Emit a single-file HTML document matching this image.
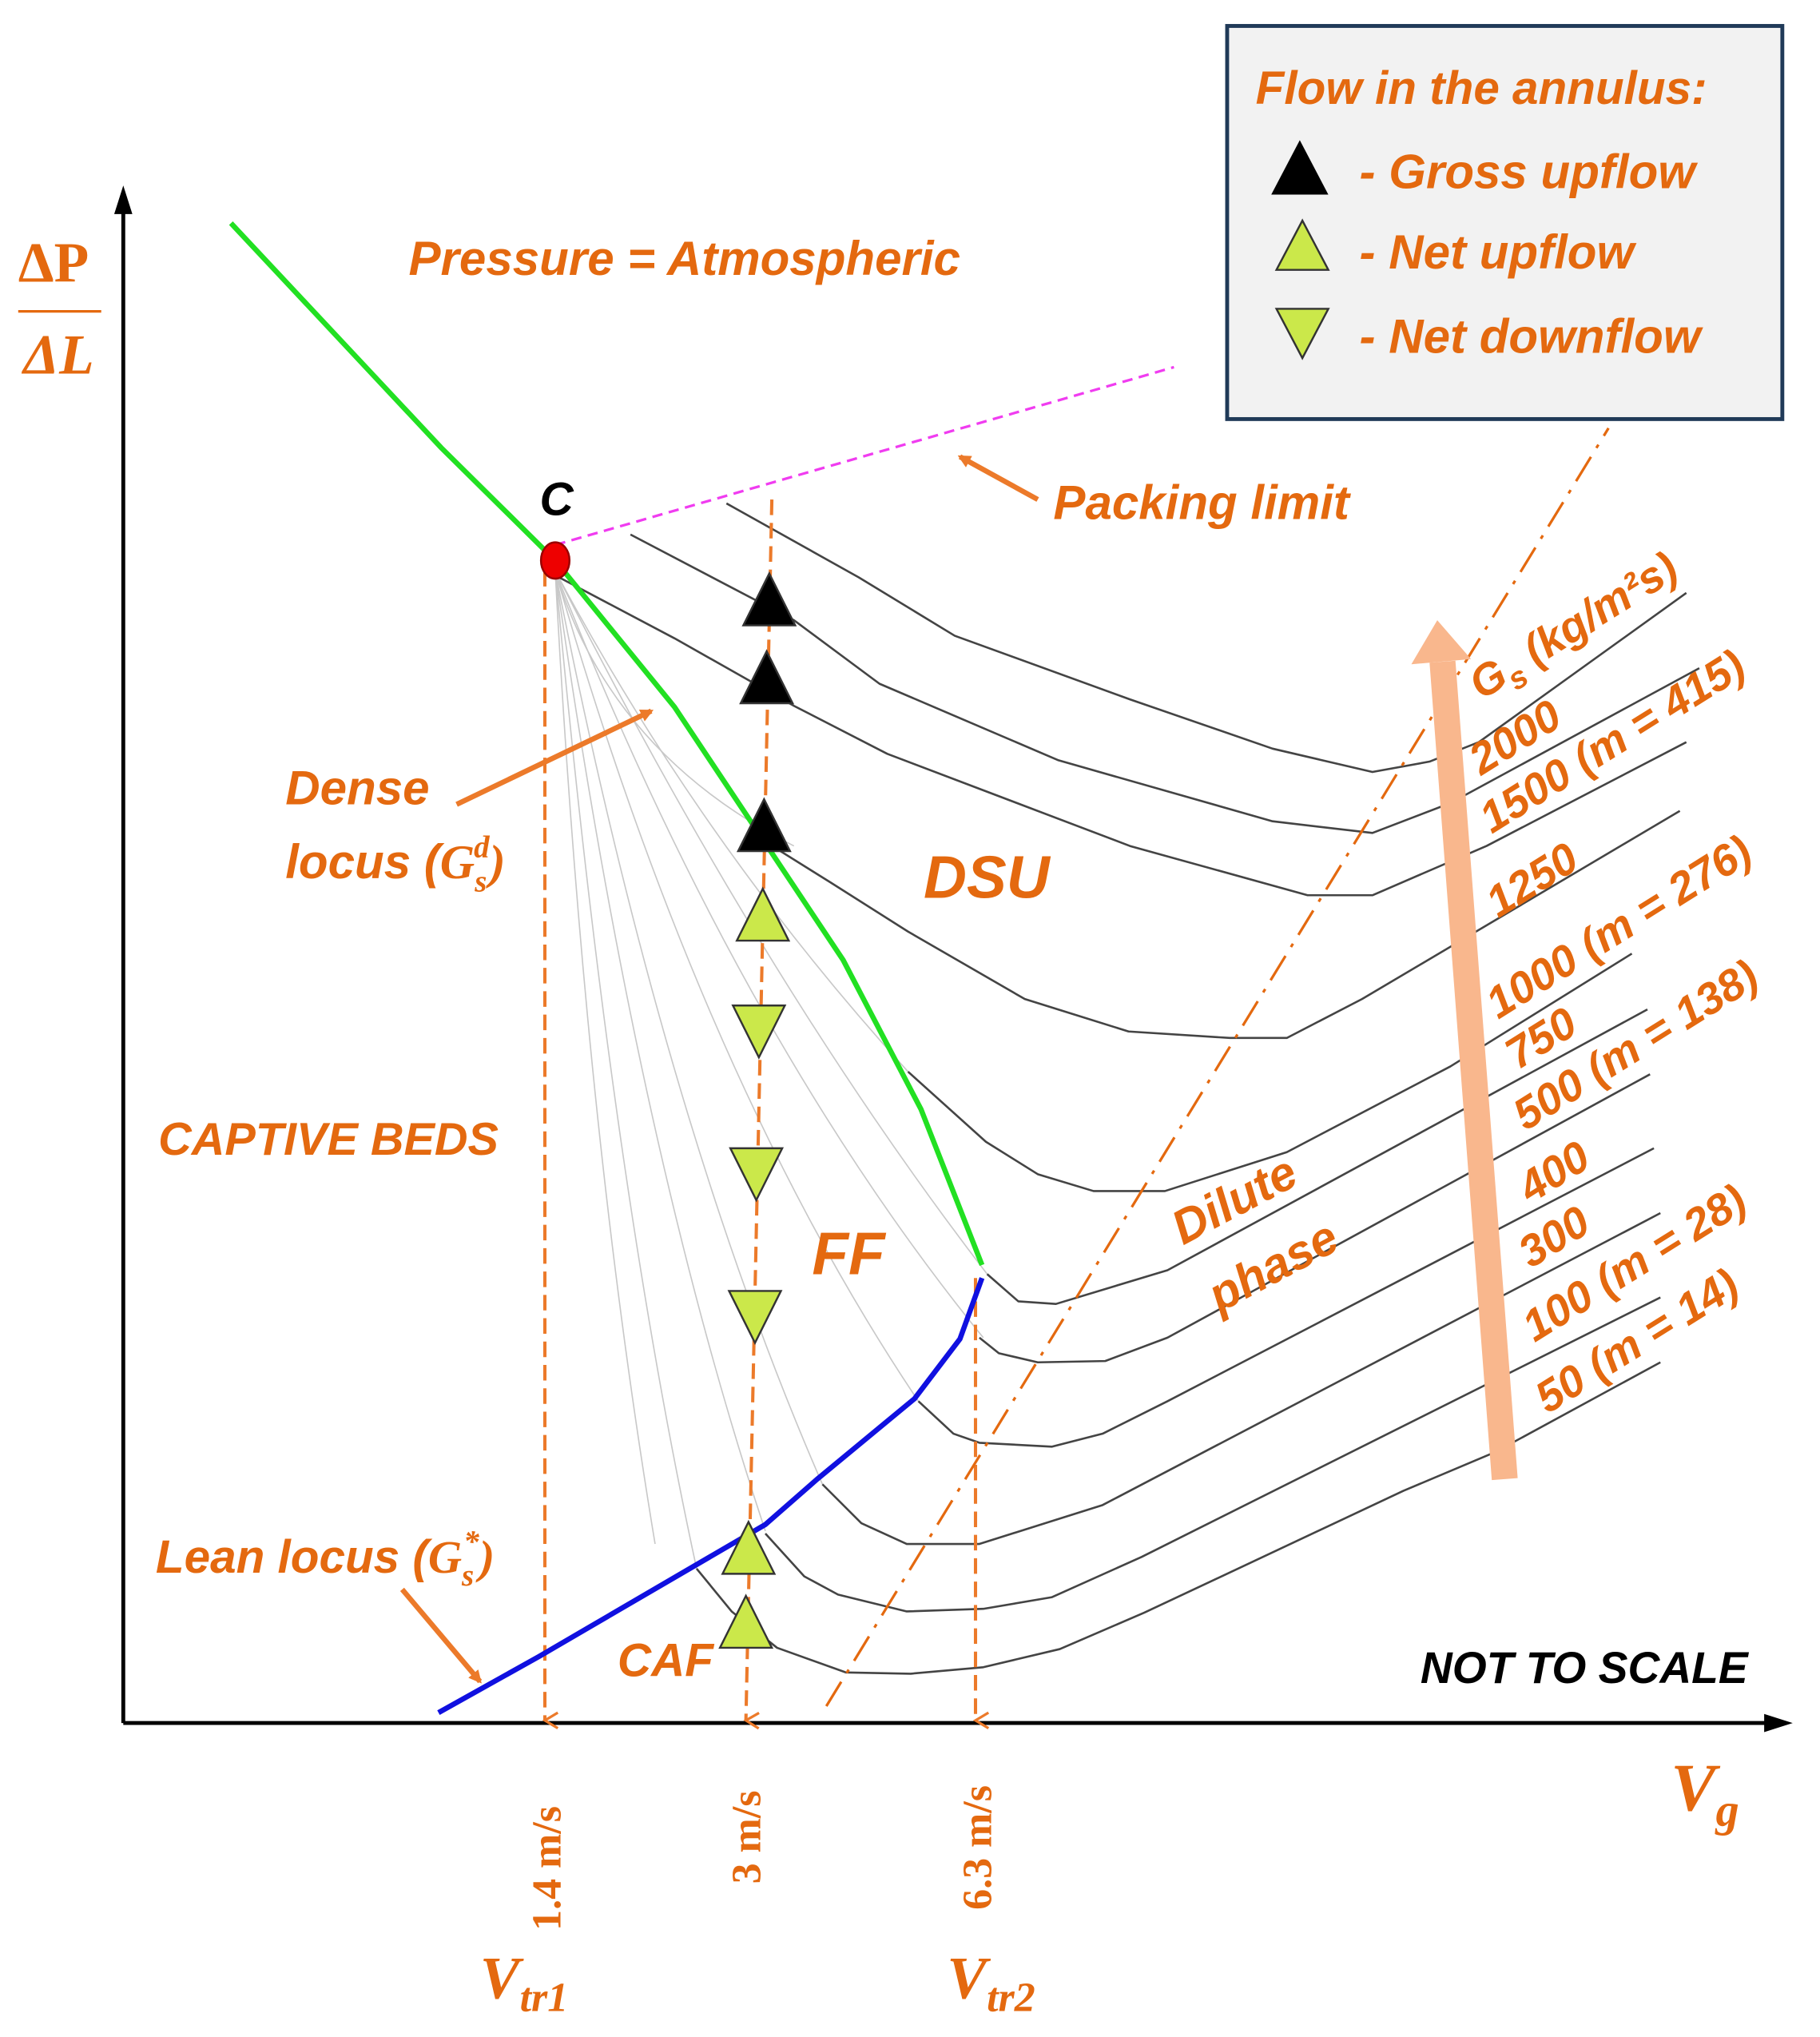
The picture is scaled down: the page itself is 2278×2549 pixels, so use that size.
<!DOCTYPE html>
<html><head><meta charset="utf-8"><style>
html,body{margin:0;padding:0;background:#fff}
svg{display:block}
.o{fill:#e4690f;font-family:"Liberation Sans",sans-serif;font-weight:bold;font-style:italic}
.s{fill:#e4690f;font-family:"Liberation Serif",serif;font-weight:bold}
.g{fill:none;stroke:#444;stroke-width:1.6;stroke-linejoin:round}
.f{fill:none;stroke:#c8c8c8;stroke-width:1}
</style></head><body>
<svg width="2278" height="2549" viewBox="0 0 1403 1570" xmlns="http://www.w3.org/2000/svg">
<defs>
<marker id="ar" markerWidth="10" markerHeight="10" refX="8" refY="5" orient="auto" markerUnits="userSpaceOnUse"><path d="M0,0 L10,5 L0,10 z" fill="#ec7a2a"/></marker>
<marker id="ad" markerWidth="14" markerHeight="14" refX="7" refY="12" orient="auto" markerUnits="userSpaceOnUse"><path d="M1,2 L7,12 L13,2" fill="none" stroke="#ec7a2a" stroke-width="2"/></marker>
</defs>
<g class="f">
<path d="M428,440 Q470,900 537,1209"/>
<path d="M428,440 Q490,880 590,1180"/>
<path d="M428,440 Q510,860 634,1144"/>
<path d="M428,440 Q540,830 708,1080"/>
<path d="M428,440 Q570,800 758,1031"/>
<path d="M428,440 Q590,760 761,982"/>
<path d="M428,440 Q540,650 700,826"/>
<path d="M428,440 Q470,580 612,652"/>
<path d="M428,440 Q450,860 505,1190"/>
</g>
<g class="g">
<polyline points="560,388 662,445 736,490 871,539 981,577 1058,595 1102,587 1140,572 1300,457"/>
<polyline points="486,412 612,478 678,527 816,586 981,633 1058,642 1118,619 1310,515"/>
<polyline points="431,445 520,492 612,544 684,581 871,652 1008,690 1058,690 1146,652 1300,572"/>
<polyline points="592,650 640,680 700,718 790,770 870,795 948,800 992,800 1050,770 1295,625"/>
<polyline points="700,826 760,880 800,905 843,918 898,918 992,888 1118,822 1258,735"/>
<polyline points="761,982 785,1003 814,1005 900,979 1270,778"/>
<polyline points="755,1031 770,1043 800,1050 852,1049 900,1031 1272,828"/>
<polyline points="708,1080 735,1105 755,1112 811,1115 850,1105 900,1080 1275,885"/>
<polyline points="634,1144 664,1174 699,1190 755,1190 850,1160 1280,935"/>
<polyline points="590,1182 620,1215 646,1229 699,1242 758,1240 811,1231 880,1200 1280,1000"/>
<polyline points="537,1209 564,1242 599,1270 652,1289 702,1290 758,1285 817,1271 882,1243 1082,1149 1153,1119 1280,1050"/>
</g>
<line x1="95" y1="1328" x2="95" y2="160" stroke="#000" stroke-width="3"/>
<path d="M88,165 L95,143 L102,165 z" fill="#000"/>
<line x1="95" y1="1328" x2="1365" y2="1328" stroke="#000" stroke-width="3"/>
<path d="M1360,1321 L1382,1328 L1360,1335 z" fill="#000"/>
<line x1="420" y1="440" x2="420" y2="1326" stroke="#ec7a2a" stroke-width="2.5" stroke-dasharray="12,6" marker-end="url(#ad)"/>
<line x1="595" y1="385" x2="575" y2="1326" stroke="#ec7a2a" stroke-width="2.5" stroke-dasharray="12,6" marker-end="url(#ad)"/>
<line x1="752" y1="985" x2="752" y2="1326" stroke="#ec7a2a" stroke-width="2.5" stroke-dasharray="12,6" marker-end="url(#ad)"/>
<line x1="637" y1="1315" x2="1240" y2="330" stroke="#e4690f" stroke-width="2" stroke-dasharray="22,8,3,8"/>
<line x1="428" y1="420" x2="905" y2="283" stroke="#f03cf0" stroke-width="2" stroke-dasharray="8,5"/>
<line x1="1160" y1="1140" x2="1112" y2="510" stroke="#f9b78d" stroke-width="20"/>
<path d="M1088,512 L1108,478 L1134,508 z" fill="#f9b78d"/>
<polyline points="178,172 340,345 428,432 520,545 590,650 650,740 710,855 757,975" fill="none" stroke="#22e022" stroke-width="4"/>
<polyline points="338,1320 415,1277 590,1175 630,1140 705,1078 740,1032 757,985" fill="none" stroke="#1010e0" stroke-width="4"/>
<ellipse cx="428" cy="432" rx="11" ry="14" fill="#e00" stroke="#900" stroke-width="1.5"/>
<g stroke="#333" stroke-width="1.5">
<path d="M573,482 L593,442 L613,482 z" fill="#000"/>
<path d="M571,542 L591,502 L611,542 z" fill="#000"/>
<path d="M569,656 L589,616 L609,656 z" fill="#000"/>
<path d="M568,725 L588,685 L608,725 z" fill="#cbe84a"/>
<path d="M557,1213 L577,1173 L597,1213 z" fill="#cbe84a"/>
<path d="M555,1270 L575,1230 L595,1270 z" fill="#cbe84a"/>
<path d="M565,775 L585,815 L605,775 z" fill="#cbe84a"/>
<path d="M563,885 L583,925 L603,885 z" fill="#cbe84a"/>
<path d="M562,995 L582,1035 L602,995 z" fill="#cbe84a"/>
</g>
<rect x="946" y="20" width="428" height="303" fill="#f2f2f2" stroke="#203a58" stroke-width="3"/>
<text class="o" x="968" y="80" font-size="36">Flow in the annulus:</text>
<path d="M980,150 L1002,108 L1024,150 z" fill="#000"/>
<path d="M984,208 L1004,170 L1024,208 z" fill="#cbe84a" stroke="#333" stroke-width="1.5"/>
<path d="M984,238 L1004,276 L1024,238 z" fill="#cbe84a" stroke="#333" stroke-width="1.5"/>
<text class="o" x="1048" y="145" font-size="37">- Gross upflow</text>
<text class="o" x="1048" y="207" font-size="37">- Net upflow</text>
<text class="o" x="1048" y="272" font-size="37">- Net downflow</text>
<text class="s" x="14" y="217" font-size="44">ΔP</text>
<line x1="14" y1="240" x2="78" y2="240" stroke="#e4690f" stroke-width="2"/>
<text class="s" x="18" y="288" font-size="44" font-style="italic">ΔL</text>
<text class="s" x="1288" y="1395" font-size="52" font-style="italic">V<tspan font-size="36" dy="12">g</tspan></text>
<text class="s" x="370" y="1540" font-size="46" font-style="italic">V<tspan font-size="32" dy="10">tr1</tspan></text>
<text class="s" x="730" y="1540" font-size="46" font-style="italic">V<tspan font-size="32" dy="10">tr2</tspan></text>
<text class="s" font-size="32" transform="translate(432,1488) rotate(-90)">1.4 m/s</text>
<text class="s" font-size="32" transform="translate(586,1452) rotate(-90)">3 m/s</text>
<text class="s" font-size="32" transform="translate(764,1472) rotate(-90)">6.3 m/s</text>
<text class="o" x="315" y="212" font-size="37">Pressure = Atmospheric</text>
<text x="416" y="397" font-size="36" font-family="Liberation Sans,sans-serif" font-weight="bold" font-style="italic">C</text>
<text class="o" x="812" y="400" font-size="37">Packing limit</text>
<line x1="800" y1="385" x2="740" y2="352" stroke="#ec7a2a" stroke-width="4" marker-end="url(#ar)"/>
<text class="o" x="220" y="620" font-size="37">Dense</text>
<text class="o" x="220" y="677" font-size="37">locus (<tspan font-family="Liberation Serif,serif">G<tspan font-size="24" dy="10">s</tspan><tspan font-size="24" dx="-10" dy="-26">d</tspan><tspan dy="16">)</tspan></tspan></text>
<line x1="352" y1="620" x2="502" y2="548" stroke="#ec7a2a" stroke-width="4" marker-end="url(#ar)"/>
<text class="o" x="712" y="692" font-size="46">DSU</text>
<text class="o" x="122" y="890" font-size="35.5">CAPTIVE BEDS</text>
<text class="o" x="626" y="982" font-size="46">FF</text>
<text class="o" font-size="37" transform="translate(912,960) rotate(-28)">Dilute</text>
<text class="o" font-size="37" transform="translate(940,1012) rotate(-28)">phase</text>
<text class="o" x="120" y="1212" font-size="36">Lean locus (<tspan font-family="Liberation Serif,serif">G<tspan font-size="24" dy="10">s</tspan><tspan font-size="24" dx="-8" dy="-26">*</tspan><tspan dy="16">)</tspan></tspan></text>
<line x1="310" y1="1225" x2="370" y2="1296" stroke="#ec7a2a" stroke-width="4" marker-end="url(#ar)"/>
<text class="o" x="476" y="1292" font-size="36">CAF</text>
<text x="1095" y="1297" font-size="34" font-family="Liberation Sans,sans-serif" font-weight="bold" font-style="italic">NOT TO SCALE</text>
<g class="o" font-size="34">
<text transform="translate(1142,540) rotate(-32)">G<tspan font-size="24" dy="8">s</tspan><tspan dy="-8"> (kg/m²s)</tspan></text>
<text transform="translate(1142,598) rotate(-32)">2000</text>
<text transform="translate(1150,643) rotate(-32)">1500  (m = 415)</text>
<text transform="translate(1155,708) rotate(-32)">1250</text>
<text transform="translate(1155,786) rotate(-32)">1000  (m = 276)</text>
<text transform="translate(1170,825) rotate(-32)">750</text>
<text transform="translate(1176,872) rotate(-32)">500  (m = 138)</text>
<text transform="translate(1180,928) rotate(-32)">400</text>
<text transform="translate(1180,978) rotate(-32)">300</text>
<text transform="translate(1183,1035) rotate(-32)">100  (m = 28)</text>
<text transform="translate(1193,1090) rotate(-32)">50  (m = 14)</text>
</g>
</svg>
</body></html>
